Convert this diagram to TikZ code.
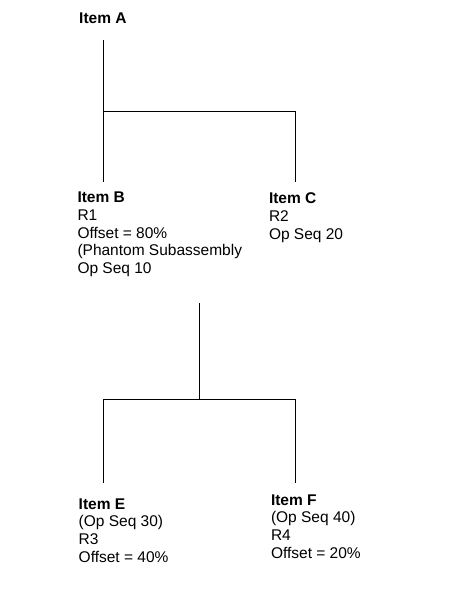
\documentclass[tikz,border=0pt]{standalone}
\usepackage{fontspec}
\setmainfont{Liberation Sans}
\begin{document}
\begin{tikzpicture}[x=1bp,y=-1bp,
  txt/.style={anchor=north west, inner sep=0pt, align=left, font=\fontsize{15.5bp}{17.8bp}\selectfont},
  conn/.style={line width=1bp, black}]
\useasboundingbox (0,0) rectangle (471,592);
% text nodes
\node[txt] (A) at (79,13) {\textbf{Item A}};
\node[txt] (B) at (77.3,191.7) {\textbf{Item B}\\R1\\Offset = 80\%\\(Phantom Subassembly\\Op Seq 10};
\node[txt] (C) at (268.8,192.7) {\textbf{Item C}\\R2\\Op Seq 20};
\node[txt] (E) at (78.5,498.3) {\textbf{Item E}\\(Op Seq 30)\\R3\\Offset = 40\%};
\node[txt] (F) at (270.8,494.3) {\textbf{Item F}\\(Op Seq 40)\\R4\\Offset = 20\%};
% connector points
\coordinate (a0) at (103.5,40);
\coordinate (a1) at (103.5,111.5);
\coordinate (a2) at (295.5,111.5);
\coordinate (cB) at (103.5,182);
\coordinate (cC) at (295.5,182);
\coordinate (b0) at (199.5,303);
\coordinate (b1) at (199.5,399.5);
\coordinate (b2) at (103.5,399.5);
\coordinate (b3) at (295.5,399.5);
\coordinate (cE) at (103.5,483);
\coordinate (cF) at (295.5,483);
% connectors
\draw[conn] (a0) -- (cB);
\draw[conn] (a1) -- (a2) -- (cC);
\draw[conn] (b0) -- (b1);
\draw[conn] (cE) -- (b2) -- (b3) -- (cF);
\end{tikzpicture}
\end{document}
